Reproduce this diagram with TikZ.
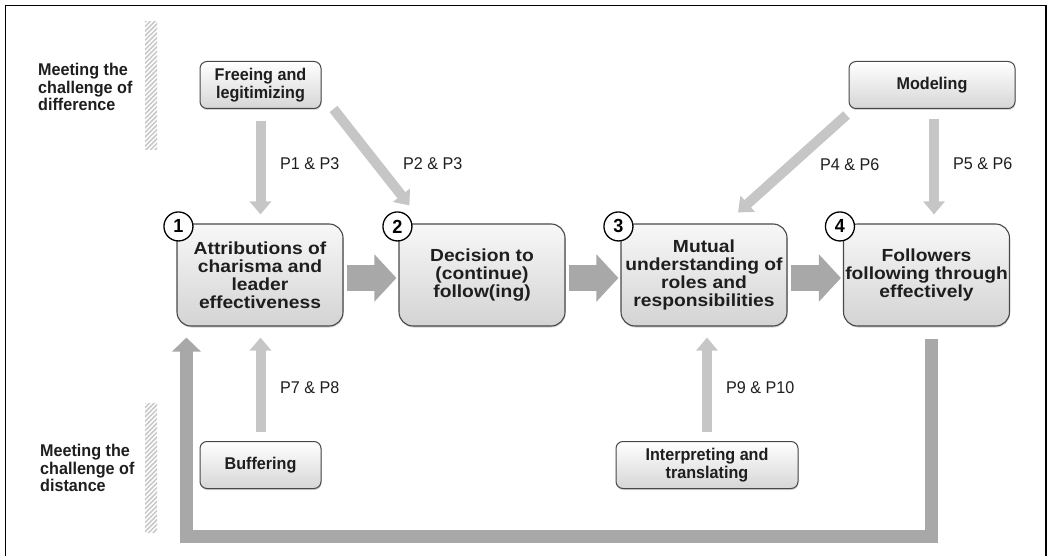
\documentclass[tikz,border=0pt]{standalone}
\usepackage{fontspec}
\newfontfamily\lblfont{Liberation Sans}[FakeStretch=0.95]
\newfontfamily\boxfont{Liberation Sans}[FakeStretch=1.1]
\usetikzlibrary{calc,positioning,arrows.meta,shadows}
\definecolor{boxedge}{RGB}{72,72,72}
\definecolor{fatgray}{RGB}{168,168,168}
\definecolor{thingray}{RGB}{198,198,198}
\definecolor{hatchgray}{RGB}{200,200,200}
\definecolor{inkgray}{RGB}{30,30,30}

\begin{document}
\begin{tikzpicture}[x=1pt,y=-1pt]
        \tikzstyle{smallbox}=[draw=boxedge, line width=1pt, rounded corners=7pt, top color=white, bottom color=gray!32, drop shadow={shadow xshift=0.5pt, shadow yshift=-1.5pt, opacity=0.35}, font=\lblfont\fontsize{17}{17.5}\selectfont\bfseries, text=inkgray, align=center, inner sep=0pt, minimum height=47pt]
        \tikzstyle{bigbox}=[draw=boxedge, line width=1.1pt, rounded corners=14pt, top color=gray!6, bottom color=gray!34, drop shadow={shadow xshift=0.5pt, shadow yshift=-1.5pt, opacity=0.35}, font=\boxfont\fontsize{17.5}{18}\selectfont\bfseries, text=inkgray, align=center, inner sep=0pt, minimum width=166pt, minimum height=102pt]
        \tikzstyle{stepno}=[circle, draw=black, line width=1.3pt, fill=white, minimum size=29pt, inner sep=0pt, font=\lblfont\fontsize{19}{19}\selectfont\bfseries]
        \tikzstyle{sidelabel}=[font=\lblfont\fontsize{17}{17.5}\selectfont\bfseries, text=inkgray, align=left, inner sep=0pt, anchor=west]
        \tikzstyle{plabel}=[font=\lblfont\fontsize{17}{17}\selectfont, text=inkgray, inner sep=0pt, anchor=west]
        \tikzstyle{fatarrow}=[draw=fatgray, line width=26pt, -{Triangle[width=46pt,length=22pt]}]
        \tikzstyle{thinarrow}=[draw=thingray, line width=10pt, -{Triangle[width=21pt,length=13pt]}]
        \tikzstyle{looparrow}=[draw=fatgray, line width=13pt, -{Triangle[width=28pt,length=14pt]}]

        \useasboundingbox (0,0) rectangle (1049,556);

        % Frame
        \draw[line width=1.6pt] (5.5,570) -- (5.5,5.5) -- (1046,5.5) -- (1046,570);

        % Hatched bars
        \foreach \top/\bot in {22/150, 403/532} {
            \begin{scope}
                \clip (145,\top) rectangle (157,\bot);
                \foreach \y in {0,4.6,...,140}
                    \draw[hatchgray, line width=1.5pt] (143,\top+\y+2) -- (159,\top+\y-14);
            \end{scope}
        }

        % Side labels
        \node (difflabel)[sidelabel] at (38,87) {Meeting the\\challenge of\\difference};
        \node (distlabel)[sidelabel] at (40,468) {Meeting the\\challenge of\\distance};

        % Leader behaviours
        \node (freeing)[smallbox, minimum width=121pt] at (260.5,85) {Freeing and\\legitimizing};
        \node (modeling)[smallbox, minimum width=166pt] at (932,85) {Modeling};
        \node (buffering)[smallbox, minimum width=121pt] at (260.5,465) {Buffering};
        \node (interp)[smallbox, minimum width=182pt] at (707,465) {Interpreting and\\translating};

        % Main chain
        \node (attrib)[bigbox] at (260,275) {Attributions of\\charisma and\\leader\\effectiveness};
        \node (decide)[bigbox] at (482,275) {Decision to\\(continue)\\follow(ing)};
        \node (mutual)[bigbox] at (704,275) {Mutual\\understanding of\\roles and\\responsibilities};
        \node (follow)[bigbox] at (926.5,275) {Followers\\following through\\effectively};

        % Step numbers
        \node (c1)[stepno] at ($(attrib.north west)+(2,3)$) {1};
        \node (c2)[stepno] at ($(decide.north west)+(-1,3)$) {2};
        \node (c3)[stepno] at ($(mutual.north west)+(-2,3)$) {3};
        \node (c4)[stepno] at ($(follow.north west)+(-3,3)$) {4};

        % Chain arrows
        \draw[fatarrow] ($(attrib.east)+(3,3)$) -- ($(decide.west)+(-2,3)$);
        \draw[fatarrow] ($(decide.east)+(3,3)$) -- ($(mutual.west)+(-2,3)$);
        \draw[fatarrow] ($(mutual.east)+(3,3)$) -- ($(follow.west)+(-2,3)$);

        % Behaviour arrows
        \draw[thinarrow] ($(freeing.south)+(0,12)$) -- ($(freeing.south |- attrib.north)+(0,-9)$);
        \draw[thinarrow] ($(freeing.south east)+(12,0)$) -- ($(decide.north west)+(11,-18)$);
        \draw[thinarrow] ($(modeling.south west)+(-2,6)$) -- ($(mutual.north)+(34,-11)$);
        \draw[thinarrow] ($(modeling.south)+(2,10)$) -- ($(modeling.south |- follow.north)+(2,-9)$);
        \draw[thinarrow] ($(buffering.north)+(0,-9)$) -- ($(buffering.north |- attrib.south)+(0,11)$);
        \draw[thinarrow] ($(interp.north)+(0,-9)$) -- ($(interp.north |- mutual.south)+(0,11)$);

        % Feedback loop
        \draw[looparrow] ($(follow.south)+(5,12)$) -- ++(0,198) -| ($(attrib.south west)+(10,11)$);

        % Proposition labels
        \node (p13)[plabel] at (280,164) {P1 \& P3};
        \node (p23)[plabel] at (403,164) {P2 \& P3};
        \node (p46)[plabel] at (820,165) {P4 \& P6};
        \node (p56)[plabel] at (953,164) {P5 \& P6};
        \node (p78)[plabel] at (280,388) {P7 \& P8};
        \node (p910)[plabel] at (726,388) {P9 \& P10};
\end{tikzpicture}
\end{document}
